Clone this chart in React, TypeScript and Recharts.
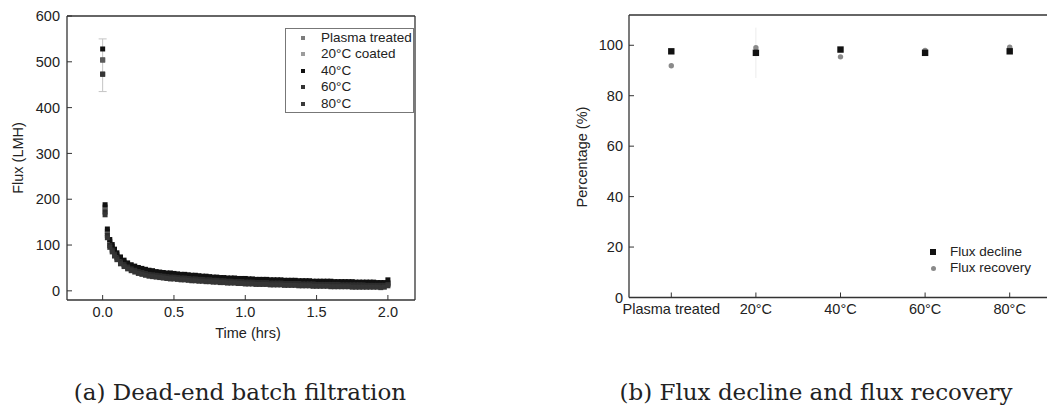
import React from 'react'
import { ScatterChart, Scatter, ComposedChart, Line, XAxis, YAxis, ErrorBar, Legend } from 'recharts'

// (a) dead-end batch filtration, time in hrs
const times = [
  0, 0.017, 0.033, 0.05, 0.067, 0.083, 0.1, 0.125, 0.15, 0.175,
  0.2, 0.225, 0.25, 0.275, 0.3, 0.325, 0.35, 0.375, 0.4, 0.425,
  0.45, 0.475, 0.5, 0.525, 0.55, 0.575, 0.6, 0.625, 0.65, 0.675,
  0.7, 0.725, 0.75, 0.775, 0.8, 0.825, 0.85, 0.875, 0.9, 0.925,
  0.95, 0.975, 1.0, 1.025, 1.05, 1.075, 1.1, 1.125, 1.15, 1.175,
  1.2, 1.225, 1.25, 1.275, 1.3, 1.325, 1.35, 1.375, 1.4, 1.425,
  1.45, 1.475, 1.5, 1.525, 1.55, 1.575, 1.6, 1.625, 1.65, 1.675,
  1.7, 1.725, 1.75, 1.775, 1.8, 1.825, 1.85, 1.875, 1.9, 1.925,
  1.95, 1.975, 2.0,
]
const plasmaFlux = [
  504, 183, 130, 108, 97, 87, 79, 70, 63, 58,
  54, 51, 48, 46, 44, 43, 41, 40, 39, 38,
  37, 36, 36, 35, 34, 34, 33, 32, 32, 31,
  30, 30, 29, 29, 28, 28, 27, 27, 26, 26,
  26, 25, 25, 25, 24, 24, 24, 23, 23, 23,
  23, 22, 22, 22, 22, 21, 21, 21, 21, 21,
  20, 20, 20, 20, 20, 19, 19, 19, 19, 19,
  19, 18, 18, 18, 18, 18, 18, 17, 17, 17,
  17, 17, 18,
]
const coated20Flux = [
  504, 177, 125, 104, 94, 84, 76, 67, 60, 55,
  51, 48, 45, 43, 41, 40, 38, 37, 36, 35,
  34, 33, 33, 32, 31, 31, 30, 29, 29, 28,
  28, 27, 27, 26, 26, 25, 25, 24, 24, 24,
  23, 23, 22, 22, 22, 22, 21, 21, 21, 21,
  20, 20, 20, 20, 19, 19, 19, 19, 18, 18,
  18, 18, 17, 17, 17, 17, 17, 17, 16, 16,
  16, 16, 16, 16, 16, 15, 15, 15, 15, 15,
  15, 15, 16,
]
const coated40Flux = [
  528, 188, 135, 112, 101, 91, 83, 74, 67, 61,
  57, 54, 51, 49, 47, 45, 44, 42, 41, 40,
  39, 39, 38, 37, 36, 36, 35, 34, 34, 33,
  32, 32, 31, 30, 30, 29, 29, 28, 28, 28,
  27, 27, 27, 26, 26, 25, 25, 25, 25, 24,
  24, 24, 24, 23, 23, 23, 23, 22, 22, 22,
  22, 21, 21, 21, 21, 21, 21, 20, 20, 20,
  20, 20, 20, 19, 19, 19, 19, 19, 19, 18,
  18, 18, 24,
]
const coated60Flux = [
  473, 172, 121, 99, 89, 80, 72, 63, 57, 52,
  48, 45, 42, 40, 38, 36, 35, 34, 33, 32,
  31, 30, 30, 29, 28, 28, 27, 26, 26, 25,
  25, 24, 24, 23, 23, 22, 22, 21, 21, 20,
  20, 20, 19, 19, 19, 18, 18, 18, 18, 17,
  17, 17, 17, 16, 16, 16, 16, 16, 15, 15,
  15, 15, 14, 14, 14, 14, 14, 14, 14, 13,
  13, 13, 13, 13, 13, 13, 12, 12, 12, 12,
  12, 12, 14,
]
const coated80Flux = [
  473, 166, 116, 95, 85, 76, 68, 59, 53, 48,
  44, 41, 38, 36, 34, 32, 31, 30, 29, 28,
  27, 26, 26, 25, 24, 24, 23, 22, 22, 21,
  21, 20, 20, 19, 19, 18, 18, 17, 17, 17,
  16, 16, 15, 15, 15, 14, 14, 14, 14, 13,
  13, 13, 13, 12, 12, 12, 12, 11, 11, 11,
  11, 10, 10, 10, 10, 10, 9, 9, 9, 9,
  9, 9, 8, 8, 8, 8, 8, 8, 8, 8,
  7, 8, 11,
]
const plasmaErrorAtStart = [69, 46]
const fluxTicks = [0, 100, 200, 300, 400, 500, 600]
const timeTicks = [0, 0.5, 1, 1.5, 2]

// (b) flux decline and recovery, %
const treatments = ['Plasma treated', '20°C', '40°C', '60°C', '80°C']
const fluxDecline = [97.6, 97.0, 98.3, 97.0, 97.6]
const fluxRecovery = [91.9, 99.0, 95.4, 97.9, 99.2]
const recoveryError = [[0, 0], [12, 8], [0, 0], [0, 0], [0, 0]]
const percentTicks = [0, 20, 40, 60, 80, 100]

const SANS = '"Liberation Sans", Arial, sans-serif'
const AXIS = '#333'

const leftSeries = [
  { name: 'Plasma treated', values: plasmaFlux, color: '#4a4a4a', key: '#7c7c7c' },
  { name: '20°C coated', values: coated20Flux, color: '#5c5c5c', key: '#9c9c9c' },
  { name: '40°C', values: coated40Flux, color: '#111', key: '#111' },
  { name: '60°C', values: coated60Flux, color: '#2c2c2c', key: '#333' },
  { name: '80°C', values: coated80Flux, color: '#353535', key: '#3a3a3a' },
]

const squareShape = (color: string, s: number) => (p: any) => (
  <rect x={p.cx - s / 2} y={p.cy - s / 2} width={s} height={s} fill={color} />
)

const tickStyle = { fill: '#222', fontSize: 14.5, fontFamily: SANS }
const axisLine = { stroke: AXIS, strokeWidth: 1.3 }

function FluxLegend() {
  return (
    <div style={{ width: 129, height: 85, border: '1px solid #777', boxSizing: 'border-box', position: 'relative', background: '#fff' }}>
      {leftSeries.map((s, i) => (
        <div key={s.name} style={{ position: 'absolute', left: 0, top: 1 + i * 16.4, height: 16.4, width: 129, fontFamily: SANS, fontSize: 13.5, lineHeight: '16.4px', color: '#222', whiteSpace: 'nowrap' }}>
          <span style={{ position: 'absolute', left: 14.5, top: 6, width: 4, height: 4, background: s.key }} />
          <span style={{ position: 'absolute', left: 35 }}>{s.name}</span>
        </div>
      ))}
    </div>
  )
}

function PercentLegend() {
  return (
    <div style={{ position: 'relative', width: 110, height: 34, fontFamily: SANS, fontSize: 13.5, color: '#222', whiteSpace: 'nowrap' }}>
      <span style={{ position: 'absolute', left: 0, top: 5, width: 6, height: 6, background: '#111' }} />
      <span style={{ position: 'absolute', left: 20, top: 0, lineHeight: '16px' }}>Flux decline</span>
      <span style={{ position: 'absolute', left: 0.5, top: 21.5, width: 5, height: 5, borderRadius: 3, background: '#8a8a8a' }} />
      <span style={{ position: 'absolute', left: 20, top: 16, lineHeight: '16px' }}>Flux recovery</span>
    </div>
  )
}

const abs = (left: number, top: number, extra: React.CSSProperties = {}): React.CSSProperties => ({
  position: 'absolute', left, top, ...extra,
})

export default function App() {
  const leftData = leftSeries.map((s) =>
    times.map((t, i) => (s.name === 'Plasma treated' && i === 0 ? { t, v: s.values[i], err: plasmaErrorAtStart } : { t, v: s.values[i] }))
  )
  const rightData = treatments.map((name, i) => ({
    name,
    decline: fluxDecline[i],
    recovery: fluxRecovery[i],
    err: recoveryError[i],
  }))

  return (
    <div style={{ position: 'fixed', left: 0, top: 0, width: 1047, height: 407, overflow: 'hidden', background: '#fff' }}>
      {/* (a) */}
      <div style={abs(0, 0)}>
        <ScatterChart width={430} height={340} margin={{ top: 15, right: 14, bottom: 10, left: 17 }}>
          <XAxis type="number" dataKey="t" domain={[-0.25, 2.19]} ticks={timeTicks} allowDataOverflow
            tickFormatter={(v: number) => v.toFixed(1)} tickSize={-5} tickMargin={12} height={30}
            axisLine={axisLine} tickLine={{ stroke: AXIS }} tick={tickStyle} />
          <XAxis xAxisId="top" orientation="top" type="number" domain={[-0.25, 2.19]} ticks={timeTicks} allowDataOverflow
            tick={false} tickSize={-5} height={1} axisLine={axisLine} tickLine={{ stroke: AXIS }} />
          <YAxis type="number" dataKey="v" domain={[-20, 600]} ticks={fluxTicks} allowDataOverflow width={50}
            tickSize={-5} tickMargin={12} axisLine={axisLine} tickLine={{ stroke: AXIS }} tick={tickStyle} />
          <YAxis yAxisId="right" orientation="right" type="number" domain={[-20, 600]} ticks={fluxTicks} allowDataOverflow width={1}
            tick={false} tickSize={-5} axisLine={axisLine} tickLine={{ stroke: AXIS }} />
          {leftSeries.map((s, k) => (
            <Scatter key={s.name} name={s.name} data={leftData[k]} fill={s.color} isAnimationActive={false}
              shape={squareShape(s.color, 5)}>
              {s.name === 'Plasma treated' && (
                <ErrorBar dataKey="err" direction="y" width={4} stroke="#c4c4c4" strokeWidth={1} />
              )}
            </Scatter>
          ))}
          <Legend layout="vertical" align="center" verticalAlign="middle" content={() => <FluxLegend />}
            wrapperStyle={{ left: 285, top: 28, width: 129, height: 85 }} />
        </ScatterChart>
      </div>
      <div style={abs(18, 158, { transform: 'translate(-50%, -50%) rotate(-90deg)', fontFamily: SANS, fontSize: 14.5, color: '#222', whiteSpace: 'nowrap' })}>
        Flux (LMH)
      </div>
      <div style={abs(248, 333, { transform: 'translate(-50%, -50%)', fontFamily: SANS, fontSize: 14.5, color: '#222', whiteSpace: 'nowrap' })}>
        Time (hrs)
      </div>

      {/* (b) */}
      <div style={abs(560, 0)}>
        <ComposedChart width={500} height={340} data={rightData} margin={{ top: 14, right: 7, bottom: 12.5, left: 9 }}>
          <XAxis dataKey="name" type="category" scale="band" interval={0} tickSize={-5} tickMargin={11} height={30}
            axisLine={axisLine} tickLine={{ stroke: AXIS }} tick={tickStyle} />
          <XAxis xAxisId="top" orientation="top" dataKey="name" type="category" scale="band" interval={0} tick={false}
            tickSize={-5} height={1} axisLine={axisLine} tickLine={{ stroke: AXIS }} />
          <YAxis type="number" domain={[0, 112]} ticks={percentTicks} allowDataOverflow width={60} tickSize={-5} tickMargin={11}
            axisLine={axisLine} tickLine={{ stroke: AXIS }} tick={tickStyle} />
          <YAxis yAxisId="right" orientation="right" type="number" domain={[0, 112]} ticks={percentTicks.slice(1)} allowDataOverflow
            width={1} tick={false} tickSize={-5} axisLine={axisLine} tickLine={{ stroke: '#999' }} />
          <Line dataKey="recovery" name="Flux recovery" stroke="none" isAnimationActive={false} activeDot={false}
            dot={(p: any) => <circle key={`r${p.index}`} cx={p.cx} cy={p.cy} r={2.7} fill="#8a8a8a" />}>
            <ErrorBar dataKey="err" direction="y" width={0} stroke="#ececec" strokeWidth={1} />
          </Line>
          <Line dataKey="decline" name="Flux decline" stroke="none" isAnimationActive={false} activeDot={false}
            dot={(p: any) => <rect key={`d${p.index}`} x={p.cx - 3.2} y={p.cy - 3.2} width={6.4} height={6.4} fill="#111" />} />
          <Legend layout="vertical" align="center" verticalAlign="middle" content={() => <PercentLegend />}
            wrapperStyle={{ left: 370, top: 244, width: 110, height: 34 }} />
        </ComposedChart>
      </div>
      <div style={abs(582, 157, { transform: 'translate(-50%, -50%) rotate(-90deg)', fontFamily: SANS, fontSize: 14.5, color: '#222', whiteSpace: 'nowrap' })}>
        Percentage (%)
      </div>

      {/* captions */}
      <div style={abs(240, 392, { transform: 'translate(-50%, -50%)', fontFamily: '"DejaVu Serif", serif', fontSize: 23, color: '#222', whiteSpace: 'nowrap' })}>
        (a) Dead-end batch filtration
      </div>
      <div style={abs(816, 392, { transform: 'translate(-50%, -50%)', fontFamily: '"DejaVu Serif", serif', fontSize: 23, color: '#222', whiteSpace: 'nowrap' })}>
        (b) Flux decline and flux recovery
      </div>
    </div>
  )
}
